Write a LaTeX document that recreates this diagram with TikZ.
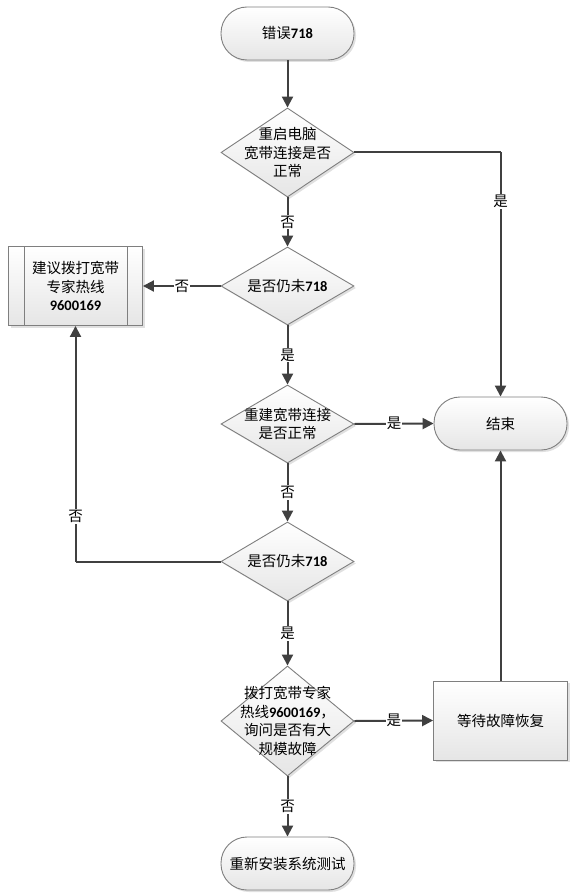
\documentclass[tikz,border=0pt]{standalone}
\usepackage{fontspec}
\setmainfont{Noto Sans CJK SC}
\newfontfamily\numfont{Carlito}
\usetikzlibrary{shapes.geometric,arrows.meta,shadows}
\newcommand{\nb}[1]{{\numfont\bfseries #1}}
\definecolor{lnc}{HTML}{404040}
\definecolor{bdc}{HTML}{7F7F7F}
\tikzset{
  shp/.style={draw=bdc, line width=0.9pt, top color=white, bottom color=black!10,
    drop shadow={shadow xshift=2pt, shadow yshift=-2pt, fill=black!20, opacity=0.6}},
  term/.style={shp, rectangle, rounded corners=26pt, minimum width=133pt, minimum height=53pt, inner sep=0pt},
  dia/.style={shp, diamond, inner sep=0pt, minimum width=133pt},
  boxn/.style={shp, rectangle, minimum width=134pt, minimum height=79pt, inner sep=0pt},
  txt/.style={align=center, font=\fontsize{14.5}{18.5}\selectfont, text=black, inner sep=0pt},
  arr/.style={draw=lnc, line width=2pt, -{Triangle[length=11pt,width=11pt]}},
  ln/.style={draw=lnc, line width=2pt},
  lab/.style={fill=white, inner sep=1pt, font=\fontsize{14.5}{16}\selectfont, text=black}
}
\begin{document}
\begin{tikzpicture}[x=1pt,y=-1pt]
\useasboundingbox[fill=white] (0,0) rectangle (573,893);
% shapes
\node[term] (s) at (287.5,33.5) {};
\node[txt] (st) at (s) {错误\nb{718}};
\node[dia, minimum height=89pt] (d1) at (287.5,152.5) {};
\node[txt] (d1t) at (d1) {重启电脑\\宽带连接是否\\正常};
\node[dia, minimum height=78pt] (d2) at (287.5,286) {};
\node[txt] (d2t) at (d2) {是否仍未\nb{718}};
\node[boxn] (b) at (75.5,286) {};
\draw[draw=bdc, line width=0.9pt] (b.north west) ++(16,0) coordinate (bl1) -- (bl1 |- b.south);
\draw[draw=bdc, line width=0.9pt] (b.north east) ++(-16,0) coordinate (br1) -- (br1 |- b.south);
\node[txt] (bt) at (b) {建议拨打宽带\\专家热线\\\nb{9600169}};
\node[dia, minimum height=78pt] (d3) at (287.5,424) {};
\node[txt] (d3t) at (d3) {重建宽带连接\\是否正常};
\node[term] (e1) at (500.5,423.5) {};
\node[txt] (e1t) at (e1) {结束};
\node[dia, minimum height=79pt] (d4) at (287.5,561.5) {};
\node[txt] (d4t) at (d4) {是否仍未\nb{718}};
\node[dia, minimum height=110pt] (d5) at (287.5,721) {};
\node[txt] (d5t) at (d5) {拨打宽带专家\\热线\nb{9600169}，\\询问是否有大\\规模故障};
\node[boxn, minimum height=79pt] (w) at (500.5,720.5) {};
\node[txt] (wt) at (w) {等待故障恢复};
\node[term] (f) at (287.5,863.5) {};
\node[txt] (ft) at (f) {重新安装系统测试};
% connectors
\coordinate (c1) at (e1.north |- d1.east);
\coordinate (c2) at (b.south |- d4.west);
\draw[arr] (s.south) -- (d1.north);
\draw[arr] (d1.south) -- node[lab] {否} (d2.north);
\draw[ln] (d1.east) -- (c1);
\draw[arr] (c1) -- node[lab, pos=0.2] {是} (e1.north);
\draw[arr] (d2.west) -- node[lab] {否} (b.east);
\draw[arr] (d2.south) -- node[lab] {是} (d3.north);
\draw[arr] (d3.east) -- node[lab] {是} (e1.west);
\draw[arr] (d3.south) -- node[lab] {否} (d4.north);
\draw[ln] (d4.west) -- (c2);
\draw[arr] (c2) -- node[lab, pos=0.19] {否} (b.south);
\draw[arr] (d4.south) -- node[lab] {是} (d5.north);
\draw[arr] (d5.east) -- node[lab] {是} (w.west);
\draw[arr] (w.north) -- (e1.south);
\draw[arr] (d5.south) -- node[lab] {否} (f.north);
\end{tikzpicture}
\end{document}
